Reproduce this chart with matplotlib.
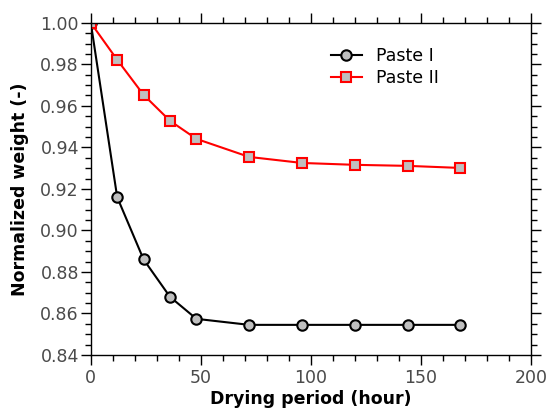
import numpy as np
import matplotlib
matplotlib.use("Agg")
import matplotlib.pyplot as plt
from matplotlib.ticker import MultipleLocator, FormatStrFormatter

hours = [0, 12, 24, 36, 48, 72, 96, 120, 144, 168]
paste1 = [1.0, 0.916, 0.886, 0.868, 0.8574, 0.8545, 0.8545, 0.8545, 0.8545, 0.8545]
paste2 = [1.0, 0.9822, 0.9653, 0.9528, 0.9441, 0.9354, 0.9325, 0.9316, 0.9311, 0.9301]

fig = plt.figure(figsize=(5.57, 4.08), dpi=100)
ax = fig.add_axes([0.163, 0.130, 0.790, 0.814])

ax.plot(hours, paste1, '-o', color='black', lw=1.5, ms=7.5,
        mfc='#bfbfbf', mec='black', mew=1.5, label='Paste I')
ax.plot(hours, paste2, '-s', color='red', lw=1.5, ms=7.5,
        mfc='#bfbfbf', mec='red', mew=1.5, label='Paste II')

ax.set_xlim(0, 200)
ax.set_ylim(0.84, 1.00)
ax.xaxis.set_major_locator(MultipleLocator(50))
ax.xaxis.set_minor_locator(MultipleLocator(10))
ax.yaxis.set_major_locator(MultipleLocator(0.02))
ax.yaxis.set_minor_locator(MultipleLocator(0.005))
ax.yaxis.set_major_formatter(FormatStrFormatter('%.2f'))
ax.tick_params(which='both', direction='out', top=True, right=True,
               labelsize=12.5, labelcolor='#4a4a4a', width=1.0)
ax.tick_params(which='major', length=7)
ax.tick_params(which='minor', length=4.3)
ax.tick_params(axis='y', pad=1.5)
ax.tick_params(axis='x', pad=3)
for s in ax.spines.values():
    s.set_linewidth(1.0)

ax.set_xlabel('Drying period (hour)', fontsize=12.5, fontweight='bold', labelpad=2)
ax.set_ylabel('Normalized weight (-)', fontsize=12.5, fontweight='bold', labelpad=8)

ax.legend(loc='upper left', bbox_to_anchor=(0.51, 0.975), frameon=False,
          fontsize=12.5, handlelength=1.8, handletextpad=0.8, labelspacing=0.25)

fig.savefig('out.png', dpi=100)
